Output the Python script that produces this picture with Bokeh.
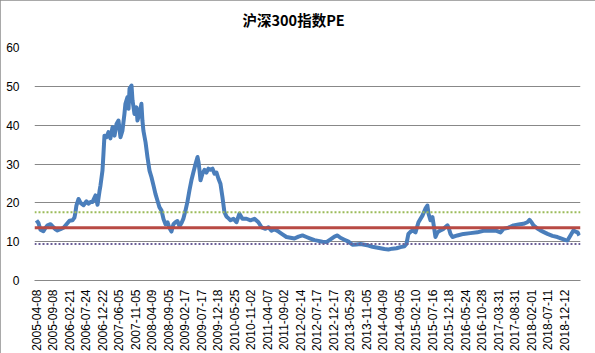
import math
from bokeh.plotting import figure
from bokeh.models import FixedTicker, Span, Range1d, Title
from bokeh.embed import file_html
from bokeh.resources import INLINE

# tick labels (one every 100 trading days)
tick_labels = [
    "2005-04-08", "2005-09-08", "2006-02-21", "2006-07-24", "2006-12-22",
    "2007-06-05", "2007-11-05", "2008-04-09", "2008-09-05", "2009-02-17",
    "2009-07-17", "2009-12-18", "2010-05-25", "2010-11-02", "2011-04-07",
    "2011-09-02", "2012-02-14", "2012-07-17", "2012-12-17", "2013-05-29",
    "2013-11-05", "2014-04-09", "2014-09-05", "2015-02-10", "2015-07-16",
    "2015-12-18", "2016-05-24", "2016-10-28", "2017-03-31", "2017-08-31",
    "2018-02-01", "2018-07-11", "2018-12-12",
]
tick_positions = [i * 100 for i in range(len(tick_labels))]

# PE series: trading-day index and value
day_index = [
    0, 12, 24, 42, 55, 67, 85, 103, 115, 127, 145, 164, 182, 200, 218, 230,
    236, 242, 255, 267, 285, 303, 315, 327, 339, 358, 370, 382, 388, 400,
    406, 412, 424, 436, 448, 461, 473, 485, 497, 509, 521, 533, 539, 551,
    558, 564, 576, 582, 594, 606, 612, 624, 636, 642, 648, 661, 673, 685,
    697, 709, 721, 733, 745, 758, 770, 782, 794, 806, 818, 830, 842, 854,
    867, 879, 891, 903, 915, 927, 939, 951, 964, 976, 982, 988, 994, 1006,
    1018, 1030, 1042, 1054, 1067, 1079, 1091, 1103, 1115, 1127, 1139, 1151,
    1164, 1176, 1194, 1212, 1230, 1248, 1273, 1297, 1321, 1345, 1364, 1388,
    1406, 1424, 1442, 1467, 1491, 1515, 1539, 1563, 1588, 1612, 1636, 1660,
    1685, 1709, 1733, 1757, 1782, 1806, 1824, 1842, 1866, 1891, 1915, 1939,
    1963, 1988, 2012, 2036, 2060, 2085, 2109, 2133, 2157, 2182, 2206, 2230,
    2242, 2254, 2266, 2279, 2297, 2315, 2339, 2357, 2369, 2376, 2388, 2400,
    2406, 2418, 2430, 2448, 2467, 2491, 2497, 2509, 2521, 2551, 2588, 2630,
    2672, 2709, 2751, 2788, 2812, 2830, 2860, 2891, 2921, 2951, 2975, 2988,
    3000, 3012, 3036, 3054, 3078, 3097, 3127, 3157, 3182, 3206, 3218, 3236,
    3254, 3267, 3279, 3290,
]
pe_values = [
    15.5, 14.8, 13.1, 12.7, 13.6, 14.2, 14.5, 13.7, 13.2, 12.9, 13.2, 13.6,
    14.5, 15.4, 15.5, 16.2, 17.5, 19.3, 21.0, 20.0, 19.4, 20.4, 19.8, 20.2,
    20.2, 21.9, 19.5, 23.0, 24.5, 28.3, 32.7, 37.3, 36.9, 38.2, 36.6, 39.5,
    37.3, 40.3, 41.2, 36.9, 38.6, 42.9, 45.5, 47.2, 44.2, 49.4, 50.2, 46.4,
    42.9, 44.6, 41.2, 42.9, 45.5, 41.2, 38.6, 35.6, 31.7, 28.3, 26.6, 24.5,
    22.3, 20.6, 18.9, 18.0, 15.8, 14.5, 15.0, 13.5, 12.6, 14.5, 15.0, 15.3,
    14.0, 14.8, 16.0, 18.0, 20.3, 23.2, 25.8, 27.9, 30.0, 31.8, 30.5, 28.3,
    25.8, 27.5, 28.5, 27.8, 28.8, 28.5, 28.8, 27.5, 27.8, 26.2, 24.9, 21.5,
    17.6, 16.5, 16.0, 15.5, 15.9, 15.0, 17.2, 15.9, 15.9, 15.5, 15.9, 15.0,
    13.7, 13.3, 13.7, 12.8, 13.2, 12.6, 11.9, 11.2, 11.0, 10.8, 11.3, 11.6,
    11.2, 10.8, 10.4, 10.2, 10.0, 9.9, 10.6, 11.3, 11.6, 11.0, 10.5, 10.0,
    9.2, 9.3, 9.4, 9.2, 9.0, 8.7, 8.5, 8.3, 8.1, 8.0, 8.2, 8.3, 8.6, 8.8,
    9.4, 12.0, 12.5, 12.9, 12.4, 15.0, 16.7, 18.5, 19.3, 17.2, 15.5, 16.3,
    14.6, 11.2, 12.4, 12.9, 13.3, 14.2, 13.7, 12.0, 11.2, 11.6, 12.0, 12.2,
    12.4, 12.8, 12.9, 12.8, 12.4, 13.3, 13.6, 14.2, 14.4, 14.6, 15.0, 15.6,
    15.0, 14.2, 13.4, 12.9, 12.4, 12.0, 11.5, 11.2, 10.8, 10.4, 10.3, 11.6,
    12.9, 12.6, 12.4, 11.6,
]

pe_mean = 13.6
pe_high = 17.6
pe_low = 9.4

y_ticks = [0, 10, 20, 30, 40, 50, 60]
chart_title = "沪深300指数PE"

p = figure(
    width=595, height=353,
    output_backend="svg", toolbar_location=None,
    x_range=Range1d(-12, 3297), y_range=Range1d(0, 60),
    min_border_left=34, min_border_right=15,
    min_border_top=0, min_border_bottom=73,
    title=None,
)
p.styles = {"outline": "1px solid #8c8c8c", "outline-offset": "-1px"}
p.outline_line_color = None
p.background_fill_color = "white"
p.border_fill_color = "white"

# spacer between plot area and title, then the title itself
p.add_layout(Title(text=" ", text_font_size="2px", standoff=8), "above")
p.add_layout(Title(text=chart_title, align="left", offset=208,
                   text_font="Noto Sans CJK SC", text_font_size="14.5px",
                   text_font_style="bold", text_color="#000000",
                   standoff=12), "above")

p.line(day_index, pe_values, line_color="#4A7EBB", line_width=4,
       line_join="round")

p.add_layout(Span(location=pe_high, dimension="width", line_color="#9BBB59",
                  line_width=2, line_dash="2 2"))
p.add_layout(Span(location=pe_low, dimension="width", line_color="#6A5E96",
                  line_width=2, line_dash="2 2"))
p.add_layout(Span(location=pe_mean, dimension="width", line_color="#B84A44",
                  line_width=3))

p.xgrid.visible = False
p.ygrid.grid_line_color = "#888888"
p.ygrid.grid_line_width = 1
p.yaxis.ticker = FixedTicker(ticks=y_ticks)
p.yaxis.axis_line_color = None
p.yaxis.major_tick_line_color = None
p.yaxis.minor_tick_line_color = None
p.yaxis.major_label_standoff = 9
p.yaxis.major_label_text_font = "Liberation Sans"
p.yaxis.major_label_text_font_size = "12px"
p.yaxis.major_label_text_color = "#000000"

p.xaxis.ticker = FixedTicker(ticks=tick_positions)
p.xaxis.major_label_overrides = {t: lab for t, lab in zip(tick_positions, tick_labels)}
p.xaxis.major_label_orientation = math.pi / 2
p.xaxis.axis_line_color = "#888888"
p.xaxis.major_tick_line_color = None
p.xaxis.minor_tick_line_color = None
p.xaxis.major_label_standoff = 3
p.xaxis.major_label_text_font = "Liberation Sans"
p.xaxis.major_label_text_font_size = "12px"
p.xaxis.major_label_text_color = "#000000"

open("out.html", "w").write(file_html(p, INLINE))
